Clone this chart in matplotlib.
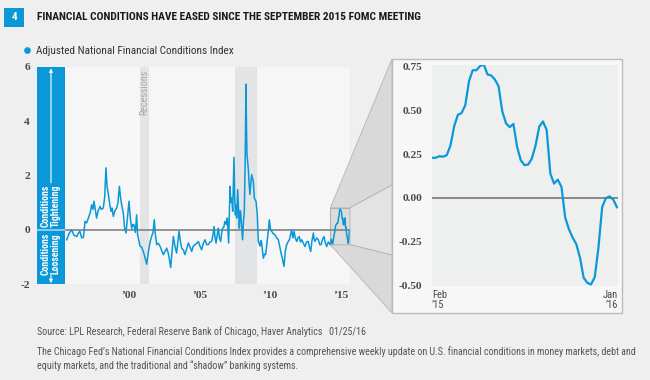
"""Adjusted NFCI with a zoomed view of 2015."""
import os

import matplotlib

matplotlib.use("Agg")
import matplotlib.pyplot as plt
import numpy as np
import pandas as pd
from matplotlib import font_manager
from matplotlib.font_manager import FontProperties
from matplotlib.lines import Line2D
from matplotlib.patches import Polygon, Rectangle

# Data (decimal year, index value), 1996 - Jan 2015
anfci_year = [
    1995.99, 1996.15, 1996.34, 1996.50, 1996.70, 1996.85, 1996.93, 1997.05,
    1997.17, 1997.29, 1997.40, 1997.52, 1997.64, 1997.76, 1997.85, 1997.92,
    1998.00, 1998.11, 1998.22, 1998.35, 1998.45, 1998.58, 1998.68, 1998.77,
    1998.85, 1998.94, 1999.05, 1999.13, 1999.20, 1999.29, 1999.40, 1999.53,
    1999.62, 1999.72, 1999.80, 1999.88, 2000.00, 2000.08, 2000.19, 2000.30,
    2000.40, 2000.50, 2000.59, 2000.68, 2000.75, 2000.85, 2000.94, 2001.01,
    2001.10, 2001.18, 2001.30, 2001.41, 2001.52, 2001.65, 2001.75, 2001.84,
    2001.92, 2002.00, 2002.10, 2002.19, 2002.27, 2002.36, 2002.48, 2002.59,
    2002.70, 2002.83, 2002.95, 2003.07, 2003.20, 2003.35, 2003.45, 2003.54,
    2003.65, 2003.77, 2003.85, 2003.94, 2004.03, 2004.13, 2004.25, 2004.36,
    2004.48, 2004.60, 2004.72, 2004.84, 2004.95, 2005.07, 2005.20, 2005.31,
    2005.42, 2005.54, 2005.66, 2005.78, 2005.90, 2006.01, 2006.13, 2006.25,
    2006.34, 2006.42, 2006.49, 2006.56, 2006.64, 2006.72, 2006.80, 2006.89,
    2006.96, 2007.03, 2007.11, 2007.19, 2007.28, 2007.36, 2007.45, 2007.55,
    2007.61, 2007.67, 2007.74, 2007.83, 2007.88, 2007.93, 2007.98, 2008.02,
    2008.09, 2008.15, 2008.21, 2008.26, 2008.30, 2008.36, 2008.44, 2008.50,
    2008.56, 2008.62, 2008.68, 2008.72, 2008.75, 2008.80, 2008.85, 2008.90,
    2008.96, 2009.02, 2009.08, 2009.14, 2009.20, 2009.27, 2009.33, 2009.39,
    2009.48, 2009.55, 2009.61, 2009.67, 2009.73, 2009.79, 2009.85, 2009.91,
    2009.99, 2010.07, 2010.14, 2010.21, 2010.27, 2010.33, 2010.42, 2010.50,
    2010.62, 2010.73, 2010.85, 2010.97, 2011.06, 2011.16, 2011.27, 2011.37,
    2011.46, 2011.56, 2011.65, 2011.75, 2011.83, 2011.91, 2012.00, 2012.08,
    2012.17, 2012.27, 2012.36, 2012.45, 2012.53, 2012.62, 2012.74, 2012.86,
    2012.97, 2013.09, 2013.17, 2013.26, 2013.35, 2013.45, 2013.50, 2013.56,
    2013.68, 2013.80, 2013.90, 2013.99, 2014.10, 2014.20, 2014.30, 2014.39,
    2014.50, 2014.63, 2014.72, 2014.80, 2014.88, 2014.95, 2015.02,
]
anfci_value = [
    -0.37, -0.15, 0.00, -0.20, -0.25, -0.10, -0.06, -0.30,
    -0.28, 0.31, 0.25, 0.43, 0.60, 0.92, 0.75, 1.05,
    0.80, 0.43, 0.70, 0.86, 0.75, 0.80, 1.20, 2.28,
    1.60, 1.30, 0.90, 0.68, 0.80, 0.49, 0.70, 0.80,
    1.00, 1.60, 1.20, 0.92, 0.60, 0.10, -0.12, 0.50,
    1.05, 0.40, 0.05, 0.20, 0.18, -0.10, 0.55, -0.18,
    -0.40, -0.60, -0.65, -0.80, -1.00, -1.27, -0.90, -0.60,
    -0.40, -0.25, -0.10, 0.37, -0.20, -0.55, -0.50, -0.60,
    -0.75, -0.92, -0.80, -0.68, -0.90, -1.39, -0.80, -0.25,
    -0.60, -0.86, -0.50, -0.06, -0.40, -0.68, -0.75, -0.92,
    -0.70, -0.49, -0.65, -0.80, -0.60, -0.55, -0.50, -0.43,
    -0.60, -0.74, -0.50, -0.37, -0.55, -0.55, -0.45, -0.43,
    -0.20, 0.12, -0.30, -0.49, -0.20, 0.06, -0.30, -0.43,
    -0.10, 0.06, 0.10, 0.31, 0.20, 0.43, -0.49, 1.60,
    1.00, 1.17, 0.68, 2.67, 1.20, 0.55, 0.90, 0.43,
    1.48, 0.80, 0.06, 0.70, 0.68, 0.20, -0.37, 0.30,
    0.68, 2.50, 5.37, 3.60, 2.77, 2.50, 2.20, 1.70,
    1.30, 1.70, 2.03, 1.90, 1.78, 1.17, 1.10, 1.05,
    0.55, -0.43, -0.50, -0.60, -0.40, -0.49, -0.80, -1.05,
    -0.90, -0.92, -0.60, -0.31, 0.00, 0.37, 0.00, -0.06,
    -0.15, -0.18, -0.30, -0.37, -0.60, -0.86, -1.10, -1.35,
    -0.80, -0.55, -0.45, -0.37, -0.20, 0.00, -0.30, -0.06,
    -0.30, -0.43, -0.30, -0.25, -0.45, -0.37, -0.50, -0.62,
    -0.45, -0.43, -0.65, -0.80, -0.40, -0.12, -0.35, -0.43,
    -0.30, -0.37, -0.55, -0.55, -0.35, -0.25, -0.50, -0.62,
    -0.45, -0.55, -0.35, -0.60, -0.30, -0.10, 0.15,
]

# Weekly readings for the zoomed panel, Feb 2015 - Jan 2016
zoom_start = "2015-02-06"
zoom_value = [
    0.229, 0.229, 0.238, 0.235, 0.244, 0.300, 0.410, 0.475, 0.485, 0.530,
    0.667, 0.730, 0.730, 0.754, 0.763, 0.706, 0.700, 0.677, 0.638, 0.494,
    0.427, 0.404, 0.423, 0.292, 0.215, 0.187, 0.190, 0.225, 0.300, 0.408,
    0.437, 0.388, 0.138, 0.081, 0.104, 0.062, -0.112, -0.179, -0.227, -0.265,
    -0.342, -0.458, -0.487, -0.496, -0.454, -0.285, -0.054, -0.002, 0.008,
    -0.010, -0.054,
]

recessions = [(2001.17, 2001.83), (2007.92, 2009.46)]
main_yticks = [-2, 0, 2, 4, 6]
main_xticks = [2000, 2005, 2010, 2015]
main_xlabels = ["\u201900", "\u201905", "\u201910", "\u201915"]
zoom_yticks = [0.75, 0.50, 0.25, 0.00, -0.25, -0.50]

BLUE = "#0a98d8"
BG = "#efefef"
PLOT_BG = "#f6f6f6"
GRAY_LINE = "#8a8a8a"


def find_narrow(bold):
    """Look for an installed condensed/narrow sans face."""
    prefs = ["liberation sans narrow", "roboto condensed", "dejavu sans",
             "noto sans", "open sans", "arial narrow"]
    best = None
    for f in font_manager.fontManager.ttflist:
        key = (f.name + " " + os.path.basename(f.fname)).lower()
        narrow = "narrow" in key or ("condensed" in key and "semi" not in key
                                     and "extra" not in key and "ultra" not in key)
        if not narrow or f.style != "normal":
            continue
        w = f.weight if isinstance(f.weight, int) else (700 if "bold" in str(f.weight) else 400)
        if bold != (w >= 600) or w > 750 or 300 > w:
            continue
        rank = next((i for i, p in enumerate(prefs) if key.startswith(p)), len(prefs))
        if best is None or rank < best[0]:
            best = (rank, f.fname)
    if best is None:
        return None
    return FontProperties(fname=best[1])


NARROW = find_narrow(False)
NARROW_B = find_narrow(True)
SCALE = 1.0 if NARROW is not None else 0.8
if NARROW is None:
    NARROW = FontProperties(family="DejaVu Sans")
if NARROW_B is None:
    NARROW_B = FontProperties(family="DejaVu Sans", weight="bold")

names = {f.name for f in font_manager.fontManager.ttflist}
SERIF = "Liberation Serif" if "Liberation Serif" in names else "DejaVu Serif"


def fp(base, size):
    p = base.copy()
    p.set_size(size * SCALE)
    return p


def to_pos(left, top, right, bottom):
    """Convert a pixel box on the 650x380 canvas to figure fractions."""
    return [left / 650, 1 - bottom / 380, (right - left) / 650, (bottom - top) / 380]


def main():
    zoom_dates = pd.date_range(zoom_start, periods=len(zoom_value), freq="7D")
    zoom_year = zoom_dates.year + (zoom_dates.dayofyear - 1) / 365.25
    years = np.concatenate([anfci_year, zoom_year])
    values = np.concatenate([anfci_value, zoom_value])

    fig = plt.figure(figsize=(6.5, 3.8), dpi=100, facecolor=BG)

    # header
    fig.add_artist(Rectangle((4 / 650, 1 - 26.5 / 380), 20 / 650, 18.5 / 380,
                             transform=fig.transFigure, color=BLUE, lw=0))
    fig.text(14 / 650, 1 - 17.5 / 380, "4", color="white",
             fontproperties=fp(NARROW_B, 8), ha="center", va="center")
    fig.text(37 / 650, 1 - 17.5 / 380,
             "FINANCIAL CONDITIONS HAVE EASED SINCE THE SEPTEMBER 2015 FOMC MEETING",
             fontproperties=fp(NARROW_B, 8.2), va="center", color="#1a1a1a")

    # main chart
    ax = fig.add_axes(to_pos(37, 67, 350, 284))
    ax.set_facecolor(PLOT_BG)
    xmin, xmax = 1993.89, 2016.04
    panel_end = 1995.87
    ax.set_xlim(xmin, xmax)
    ax.set_ylim(-2, 6)
    for start, end in recessions:
        ax.axvspan(start, end, color="#e3e4e6", lw=0, zorder=0.5)
    ax.axvspan(xmin, panel_end, color=BLUE, lw=0, zorder=1)
    ax.hlines(0, xmin, panel_end, color="#9fd8f2", lw=1.2, zorder=1.2)
    ax.hlines(0, panel_end, xmax, color=GRAY_LINE, lw=1.3, zorder=1.2)
    zx0, zx1, zy0, zy1 = 2014.65, 2016.04, -0.55, 0.81
    ax.add_patch(Rectangle((zx0, zy0), zx1 - zx0, zy1 - zy0, facecolor="#dcdcdc",
                           edgecolor="#b0b0b0", lw=0.8, zorder=1.1))
    line, = ax.plot(years, values, color=BLUE, lw=1.1, zorder=2,
                    label="Adjusted National Financial Conditions Index")

    xc = (xmin + panel_end) / 2
    ax.text(xc, 0.11, "Conditions\nTightening", rotation=90, color="white",
            fontproperties=fp(NARROW_B, 7), ha="center", va="bottom",
            linespacing=1.0, zorder=3)
    ax.text(xc, -0.11, "Conditions\nLoosening", rotation=90, color="white",
            fontproperties=fp(NARROW_B, 7), ha="center", va="top",
            linespacing=1.0, zorder=3)
    ax.annotate("", xy=(xc, 5.95), xytext=(xc, 1.73),
                arrowprops=dict(arrowstyle="-|>", color="white", lw=0.8,
                                mutation_scale=5, shrinkA=0, shrinkB=0), zorder=3)
    ax.annotate("", xy=(xc, -1.97), xytext=(xc, -1.68),
                arrowprops=dict(arrowstyle="-|>", color="white", lw=0.8,
                                mutation_scale=5, shrinkA=0, shrinkB=0), zorder=3)
    ax.text(2001.5, 5.88, "Recessions", rotation=90, color="#a8a8a8",
            fontproperties=fp(NARROW, 7.2), ha="center", va="top", zorder=3)

    ax.set_yticks(main_yticks)
    ax.set_yticklabels([str(v) for v in main_yticks])
    ax.set_xticks([y + 0.4 for y in main_xticks])
    ax.set_xticklabels(main_xlabels)
    ax.tick_params(length=0, labelsize=8.2, labelcolor="#4a4a4a")
    ax.tick_params(axis="y", pad=5)
    ax.tick_params(axis="x", pad=5)
    for lab in ax.get_xticklabels() + ax.get_yticklabels():
        lab.set_family(SERIF)
        lab.set_weight("bold")
    for s in ax.spines.values():
        s.set_visible(False)

    # legend
    handle = Line2D([], [], color=BLUE, marker="o", ls="", markersize=3.8)
    fig.legend([handle], [line.get_label()], loc="center left",
               bbox_to_anchor=(22 / 650, 1 - 51 / 380), frameon=False,
               handlelength=0.9, handletextpad=0.35, borderpad=0, borderaxespad=0,
               prop=fp(NARROW, 8.1), labelcolor="#333333")

    # zoom box
    box = to_pos(392, 59, 622, 313)
    fig.add_artist(Rectangle((box[0], box[1]), box[2], box[3],
                             transform=fig.transFigure, facecolor="#f7f7f7",
                             edgecolor="#bdbdbd", lw=1.0, zorder=1))
    ax2 = fig.add_axes(to_pos(432, 65, 618, 286), zorder=2)
    ax2.set_facecolor("#eef0f0")
    ax2.plot(zoom_dates, zoom_value, color=BLUE, lw=1.6, zorder=3)
    ax2.axhline(0, color=GRAY_LINE, lw=1.4, zorder=2)
    ax2.set_ylim(-0.505, 0.76)
    z_end = zoom_dates[0] + pd.Timedelta(days=352)
    ax2.set_xlim(zoom_dates[0], z_end)
    ax2.set_yticks(zoom_yticks)
    ax2.set_yticklabels([f"{v:.2f}" for v in zoom_yticks])
    ax2.set_xticks([zoom_dates[0], z_end])
    ax2.set_xticklabels(["Feb\n\u201915", "Jan\n\u201916"])
    ax2.tick_params(length=0, labelcolor="#4a4a4a")
    ax2.tick_params(axis="y", pad=7, labelsize=8.2)
    ax2.tick_params(axis="x", pad=3)
    for lab in ax2.get_yticklabels():
        lab.set_family(SERIF)
        lab.set_weight("bold")
    xl = ax2.get_xticklabels()
    for lab in xl:
        lab.set_fontproperties(fp(NARROW, 7.6))
        lab.set_linespacing(1.0)
    xl[0].set_ha("left")
    xl[0].set_multialignment("left")
    xl[1].set_ha("right")
    xl[1].set_multialignment("right")
    for s in ax2.spines.values():
        s.set_visible(False)

    # connector between the small rectangle and the zoom box
    to_fig = fig.transFigure.inverted()
    corners = ax.transData.transform([(zx0, zy1), (zx1, zy1), (zx1, zy0), (zx0, zy0)])
    a, b, c, d = to_fig.transform(corners)
    bx0, by0, bw, bh = box
    e = (bx0, by0 + bh)
    f = (bx0, by0)
    g = (bx0, by0 + bh * 0.504)
    h = (bx0, by0 + bh * 0.228)
    for pts, col in [([a, e, g, b], "#d6d6d6"), ([b, g, h, c], "#e2e2e2"),
                     ([d, c, h, f], "#d6d6d6")]:
        fig.add_artist(Polygon(pts, closed=True, transform=fig.transFigure,
                               facecolor=col, edgecolor="#b3b3b3", lw=0.7,
                               alpha=0.85, zorder=1))

    # footer
    fig.text(37 / 650, 1 - 332 / 380,
             "Source: LPL Research, Federal Reserve Bank of Chicago, Haver Analytics   01/25/16",
             fontproperties=fp(NARROW, 7.2), color="#555555", va="center")
    fig.text(37 / 650, 1 - 346 / 380,
             "The Chicago Fed\u2019s National Financial Conditions Index provides a "
             "comprehensive weekly update on U.S. financial conditions in money markets, "
             "debt and\nequity markets, and the traditional and \u201cshadow\u201d banking systems.",
             fontproperties=fp(NARROW, 7.2), color="#555555", va="top", linespacing=1.4)

    fig.savefig("out.png", dpi=100, facecolor=fig.get_facecolor())


if __name__ == "__main__":
    main()
